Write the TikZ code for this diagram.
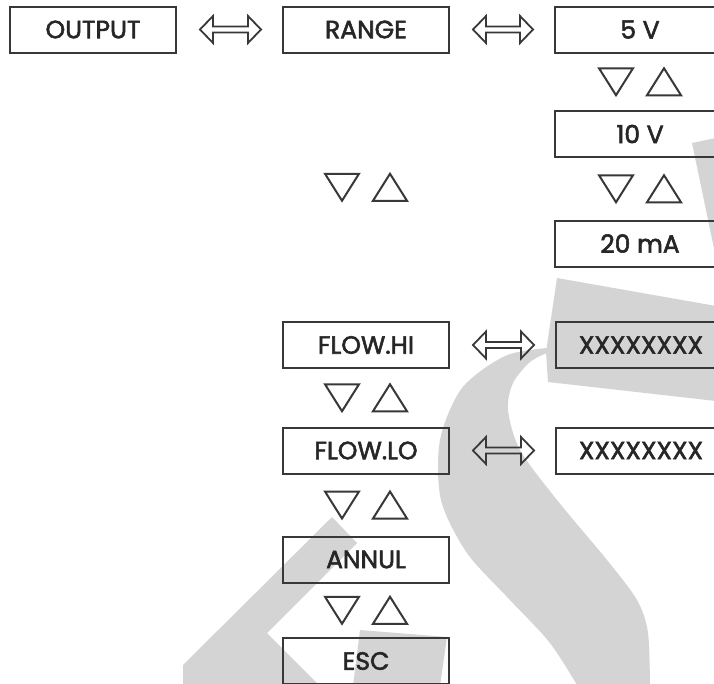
\documentclass[tikz,border=0pt]{standalone}
\usepackage{fontspec}
\newfontfamily\menufont{Poppins}[FakeBold=2.2]
\usetikzlibrary{calc}

\tikzset{
  menubox/.style={draw=black!78, line width=2pt, minimum width=166pt, minimum height=46pt,
    inner sep=0pt, text=black!85, font=\menufont\fontsize{25}{30}\selectfont},
  valbox/.style={menubox, minimum width=170pt},
  linkarrow/.style={draw=black!78, line width=1.8pt},
  keytri/.style={draw=black!78, line width=2pt},
  wmark/.style={fill=black!17}
}

\begin{document}
\begin{tikzpicture}[x=1pt,y=-1pt]
\useasboundingbox (0,0) rectangle (714,683);
\fill[white] (0,0) rectangle (714,683);
\clip (0,0) rectangle (714,683);

% watermark behind the menu
\fill[wmark] (692,143) -- (716,138) -- (716,258) -- cycle;
\fill[wmark] (557,278) -- (716,306) -- (716,401) -- (548,382) -- (546,352) -- cycle;
\fill[wmark] plot[smooth] coordinates {(547,348) (505,356) (462,388) (440,440) (441,500) (467,553) (510,600) (550,643) (580,690)}
  -- plot[smooth] coordinates {(650,690) (648,633) (637,600) (607,560) (557,500) (520,450) (508,410) (513,383) (530,362) (547,353)} -- cycle;
\fill[wmark] (332,517) -- (357,543) -- (267,633) -- (320,686) -- (183,686) -- (183,665) -- cycle;
\fill[wmark] (360,630) -- (447,637) -- (440,686) -- (353,686) -- cycle;

% menu boxes
\node[menubox] (output) at (93,29.5) {OUTPUT};
\node[menubox] (range) at (366,29.5) {RANGE};
\node[valbox] (v5) at (640,29.5) {5 V};
\node[valbox] (v10) at (640,134) {10 V};
\node[valbox] (ma20) at (640,243.5) {20 mA};
\node[menubox] (flowhi) at (366,345) {FLOW.HI};
\node[valbox] (hival) at (641,345) {XXXXXXXX};
\node[menubox] (flowlo) at (366,450.5) {FLOW.LO};
\node[valbox] (loval) at (641,450.5) {XXXXXXXX};
\node[menubox] (annul) at (366,559.5) {ANNUL};
\node[menubox] (esc) at (366,661) {ESC};

% hollow double arrows
\foreach \a/\b in {output/range, range/v5, flowhi/hival, flowlo/loval}{
  \draw[linkarrow] ($(\a.east)+(23,0)$) -- ++(13,-13.5) -- ++(0,10.5)
    -- ($(\b.west)+(-34,-3)$) -- ++(0,-10.5) -- ($(\b.west)+(-21,0)$)
    -- ++(-13,13.5) -- ++(0,-10.5) -- ($(\a.east)+(36,3)$) -- ++(0,10.5) -- cycle;
}

% down / up keys
\foreach \a/\b in {v5/v10, v10/ma20, range/flowhi, flowhi/flowlo, flowlo/annul, annul/esc}{
  \coordinate (mid) at ($(\a)!0.5!(\b)$);
  \draw[keytri] ($(mid)+(-41,-13.5)$) -- ++(34,0) -- ++(-17,27) -- cycle;
  \draw[keytri] ($(mid)+(7,13.5)$) -- ++(34,0) -- ++(-17,-27) -- cycle;
}

\end{tikzpicture}
\end{document}
